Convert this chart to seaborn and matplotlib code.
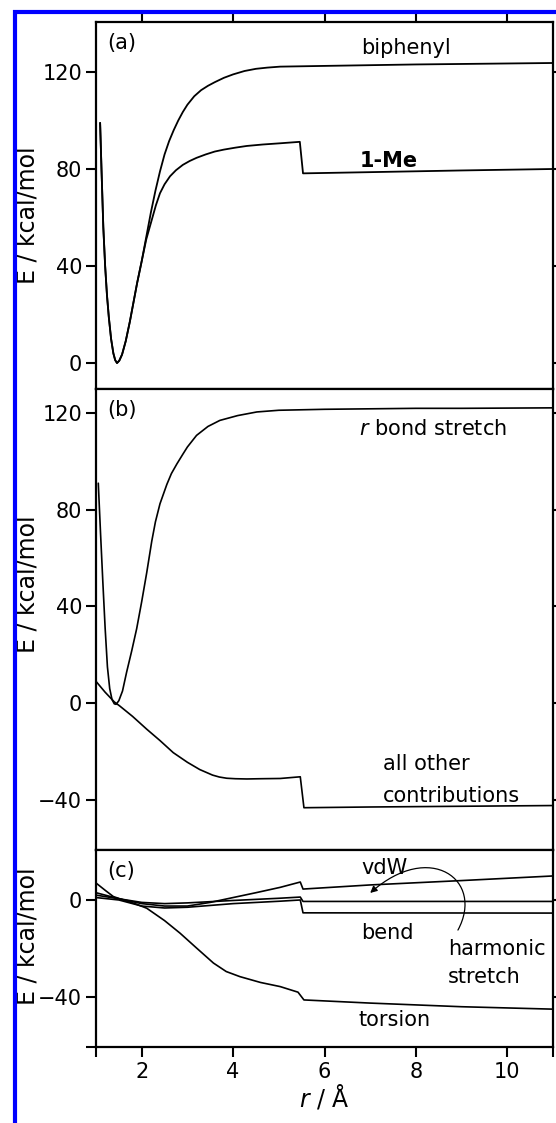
import numpy as np
import pandas as pd
import matplotlib
matplotlib.use("Agg")
import matplotlib.pyplot as plt
import seaborn as sns
from matplotlib.patches import FancyArrowPatch
from matplotlib.path import Path
from matplotlib.lines import Line2D

# ---------------- data ----------------
# panel (a)
r_biphenyl = [1.09, 1.12, 1.16, 1.20, 1.24, 1.28, 1.33, 1.38, 1.42, 1.46, 1.51, 1.57, 1.65, 1.74, 1.82,
              1.90, 2.00, 2.10, 2.20, 2.30, 2.40, 2.50, 2.60, 2.70, 2.80, 2.90, 3.00, 3.15, 3.30, 3.45,
              3.60, 3.80, 4.00, 4.25, 4.50, 4.75, 5.03, 6.0, 7.0, 8.0, 9.0, 10.0, 11.0]
E_biphenyl = [99, 80, 56, 40, 28, 19, 10, 4, 1.2, 0, 1, 3.5, 9, 17, 25,
              33, 42, 52, 62, 71, 79, 86, 91.5, 96, 100, 103.5, 106.5, 110, 112.5, 114.3,
              115.8, 117.6, 119, 120.4, 121.3, 121.8, 122.2, 122.5, 122.8, 123.1, 123.3, 123.5, 123.7]

r_1me = [1.09, 1.12, 1.16, 1.20, 1.24, 1.28, 1.33, 1.38, 1.42, 1.46, 1.51, 1.57, 1.65, 1.74, 1.82,
         1.90, 2.00, 2.10, 2.22, 2.31, 2.40, 2.50, 2.62, 2.75, 2.90, 3.05, 3.20, 3.40, 3.60, 3.80,
         4.05, 4.30, 4.65, 5.03, 5.46, 5.53, 7.0, 9.0, 11.0]
E_1me = [99, 80, 56, 40, 28, 19, 10, 4, 1.2, 0, 1, 3.5, 9, 17, 25,
         33, 42, 51, 59, 65, 70, 73.7, 77, 79.5, 81.7, 83.3, 84.6, 86, 87.2, 88,
         88.8, 89.5, 90.1, 90.6, 91.2, 78.2, 78.7, 79.4, 80]

# panel (b)
r_stretch_b = [1.05, 1.10, 1.15, 1.20, 1.25, 1.30, 1.35, 1.40, 1.44, 1.50, 1.58, 1.67, 1.78, 1.89,
               2.00, 2.11, 2.22, 2.30, 2.40, 2.55, 2.65, 2.77, 2.90, 3.00, 3.20, 3.45, 3.71, 4.10,
               4.52, 5.00, 6.0, 7.0, 8.0, 9.0, 10.0, 11.0]
E_stretch_b = [91, 70, 50, 31, 15, 6, 1.5, -0.3, -0.5, 1, 5, 12.8, 21.5, 30.8,
               42, 54, 67, 75, 82.5, 90.5, 95, 99, 103, 106, 110.8, 114.5, 117, 119,
               120.5, 121.2, 121.6, 121.8, 122, 122, 122.1, 122.2]

r_other = [1.0, 1.2, 1.4, 1.52, 1.8, 2.11, 2.4, 2.69, 3.0, 3.27, 3.55, 3.70, 3.86, 4.05, 4.3, 4.6,
           5.03, 5.47, 5.55, 7.0, 9.0, 11.0]
E_other = [9, 4.5, 0.5, -1.2, -5.5, -10.8, -15.5, -20.5, -24.5, -27.5, -29.8, -30.6, -31.1, -31.3,
           -31.4, -31.3, -31.2, -30.5, -43.3, -43, -42.7, -42.4]

# panel (c)
r_vdw = [1.0, 1.5, 2.0, 2.5, 3.0, 3.5, 4.0, 4.5, 5.03, 5.47, 5.53, 7.0, 9.0, 11.0]
E_vdw = [3, 0.5, -1.5, -2.5, -2.5, -1, 1, 3, 5.2, 7.4, 4.5, 6.2, 8.0, 9.9]

r_hstretch = [1.0, 1.5, 2.0, 2.5, 3.0, 4.0, 5.0, 5.47, 5.53, 11.0]
E_hstretch = [2, 0.5, -1, -1.5, -1.2, -0.2, 0.7, 1.2, -0.6, -0.6]

r_bend = [1.0, 1.5, 2.0, 2.5, 3.0, 4.0, 5.03, 5.47, 5.53, 11.0]
E_bend = [1, 0, -2.5, -3.3, -3, -1.5, -0.5, 0, -5.3, -5.4]

r_torsion = [1.0, 1.2, 1.38, 1.6, 1.85, 2.11, 2.5, 2.84, 3.2, 3.57, 3.85, 4.15, 4.6, 5.03, 5.42,
             5.55, 7.0, 9.0, 11.0]
E_torsion = [7, 4, 1.4, 0, -1.5, -3.4, -8.5, -13.7, -19.8, -26, -29.5, -31.6, -34, -35.7, -38,
             -41.2, -42.5, -44, -45]

x_ticks = [2, 4, 6, 8, 10]
yticks_a = [0, 40, 80, 120]
yticks_b = [-40, 0, 40, 80, 120]
yticks_c = [-40, 0]

# ---------------- style ----------------
sns.set_theme(style="ticks")
plt.rcParams["font.family"] = ["DejaVu Sans"]
plt.rcParams["axes.unicode_minus"] = True
for k in ["text.color", "axes.labelcolor", "xtick.color", "ytick.color", "axes.edgecolor"]:
    plt.rcParams[k] = "black"

FS = 15
LFS = 17
LW = 1.2
fig = plt.figure(figsize=(5.56, 11.23), dpi=100)

left = 96 / 556
width = (553 - 96) / 556
H = 1123

def add_ax(top_px, bot_px):
    return fig.add_axes([left, 1 - bot_px / H, width, (bot_px - top_px) / H])

ax_a = add_ax(22, 389)
ax_b = add_ax(389, 850)
ax_c = add_ax(850, 1047)

def line(ax, r, e, lw=LW):
    df = pd.DataFrame({"r": r, "E": e})
    sns.lineplot(data=df, x="r", y="E", ax=ax, color="black", lw=lw, sort=False,
                 estimator=None, legend=False)

line(ax_a, r_biphenyl, E_biphenyl, 1.3)
line(ax_a, r_1me, E_1me, 1.3)
line(ax_b, r_stretch_b, E_stretch_b)
line(ax_b, r_other, E_other)
line(ax_c, r_vdw, E_vdw)
line(ax_c, r_hstretch, E_hstretch)
line(ax_c, r_bend, E_bend)
line(ax_c, r_torsion, E_torsion)

ax_a.set_ylim(-10.7, 140.6)
ax_b.set_ylim(-60.8, 130)
ax_c.set_ylim(-60.6, 20.6)

for ax, yt in [(ax_a, yticks_a), (ax_b, yticks_b), (ax_c, yticks_c)]:
    ax.set_xlim(1, 11)
    ax.set_yticks(yt)
    ax.set_xticks(x_ticks)
    for s in ax.spines.values():
        s.set_visible(True)
        s.set_linewidth(1.6)
        s.set_color("black")
    ax.tick_params(axis="y", which="both", direction="out", length=7, width=1.5,
                   left=True, right=True, labelleft=True, labelright=False,
                   labelsize=FS, colors="black", pad=3)
    ax.tick_params(axis="x", which="both", direction="out", length=7, width=1.5,
                   bottom=False, top=False, labelbottom=False, labelsize=FS, colors="black")
    ax.set_xlabel("")
    ax.set_ylabel("E / kcal/mol", fontsize=LFS, color="black")
    ax.set_facecolor("white")

ax_a.tick_params(axis="x", top=True, labeltop=False)
ax_c.tick_params(axis="x", which="both", bottom=True, labelbottom=True)
ax_c.set_xticks([1, 11], minor=True)
ax_c.set_yticks([-60.6], minor=True)
ax_c.tick_params(axis="y", which="minor", right=False)
ax_c.set_xlabel(r"$r$ / Å", fontsize=LFS, color="black", labelpad=1)

ax_a.yaxis.set_label_coords(-0.123, 0.474)
ax_b.yaxis.set_label_coords(-0.123, 0.576)
ax_c.yaxis.set_label_coords(-0.123, 0.561)

# panel letters
for ax, s in [(ax_a, "(a)"), (ax_b, "(b)"), (ax_c, "(c)")]:
    ax.text(11 / 457, 1 - 11 / (ax.bbox.height), s, transform=ax.transAxes,
            ha="left", va="top", fontsize=FS)

# annotations
ax_a.text(7.78, 127.4, "biphenyl", ha="center", va="baseline", fontsize=FS)
ax_a.text(7.40, 80.8, "1-Me", ha="center", va="baseline", fontsize=FS, fontweight="bold")
ax_b.text(9.99, 110.9, r"$r$ bond stretch", ha="right", va="baseline", fontsize=FS)
ax_b.text(7.28, -27.6, "all other", ha="left", va="baseline", fontsize=FS)
ax_b.text(7.28, -40.8, "contributions", ha="left", va="baseline", fontsize=FS)
ax_c.text(7.31, 10.7, "vdW", ha="center", va="baseline", fontsize=FS)
ax_c.text(7.38, -16.1, "bend", ha="center", va="baseline", fontsize=FS)
ax_c.text(8.70, -22.7, "harmonic", ha="left", va="baseline", fontsize=FS)
ax_c.text(8.70, -34.2, "stretch", ha="left", va="baseline", fontsize=FS)
ax_c.text(7.54, -52.0, "torsion", ha="center", va="baseline", fontsize=FS)

verts = [(8.92, -12.4), (9.51, 8.2), (8.31, 24.7), (7.0, 2.9)]
codes = [Path.MOVETO, Path.CURVE4, Path.CURVE4, Path.CURVE4]
arrow = FancyArrowPatch(path=Path(verts, codes), arrowstyle="-|>,head_length=4,head_width=2",
                        color="black", lw=0.9, transform=ax_c.transData, clip_on=False)
ax_c.add_patch(arrow)

# blue frame
fig.add_artist(Line2D([15 / 556, 15 / 556], [0, 1 - 10 / H], color="#0000ff", lw=3,
                      transform=fig.transFigure, solid_capstyle="butt"))
fig.add_artist(Line2D([13 / 556, 1], [1 - 11.5 / H, 1 - 11.5 / H], color="#0000ff", lw=3,
                      transform=fig.transFigure, solid_capstyle="butt"))

fig.savefig("out.png", dpi=100, facecolor="white")
